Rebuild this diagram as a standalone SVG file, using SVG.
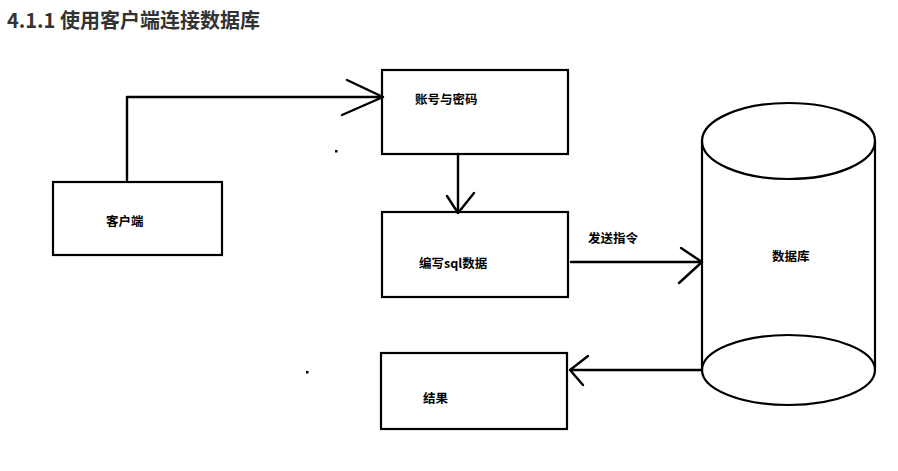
<svg xmlns="http://www.w3.org/2000/svg" width="898" height="471" viewBox="0 0 898 471">
<style>
.box{fill:#fff;stroke:#000;stroke-width:2.2}
.ln{fill:none;stroke:#000;stroke-width:2.4;stroke-linecap:round;stroke-linejoin:round}
.lbl{font-family:"Noto Sans CJK SC","Microsoft YaHei",sans-serif;font-size:12.5px;font-weight:600;fill:#000;dominant-baseline:central}
.title{font-family:"Noto Sans CJK SC","Open Sans",sans-serif;font-size:20px;font-weight:700;fill:#333}
</style>
<rect width="898" height="471" fill="#fff"/>
<text class="title" x="7" y="28">4.1.1 使用客户端连接数据库</text>
<g id="client"><rect class="box" x="53" y="182" width="169" height="73"/><text class="lbl" x="106" y="220">客户端</text></g>
<g id="account"><rect class="box" x="382" y="70" width="186" height="84"/><text class="lbl" x="415" y="98">账号与密码</text></g>
<g id="sql"><rect class="box" x="382" y="212" width="186" height="85"/><text class="lbl" x="419" y="262">编写sql数据</text></g>
<g id="result"><rect class="box" x="381" y="353" width="186" height="76"/><text class="lbl" x="423" y="397">结果</text></g>
<g id="database">
<path class="ln" d="M702,141 V370 M875,141 V370" style="stroke-width:2.2"/>
<ellipse cx="788.5" cy="141" rx="86.5" ry="38" fill="none" stroke="#000" stroke-width="2.2"/>
<ellipse cx="788.5" cy="370" rx="86.5" ry="35" fill="none" stroke="#000" stroke-width="2.2"/>
<text class="lbl" x="772" y="255">数据库</text>
</g>
<g id="connectors">
<path class="ln" d="M127,180 V97 H383 M347,80 L383,97 L342,115"/>
<path class="ln" d="M458,154 V213 M447,196 L458,213 L474,193"/>
<path class="ln" d="M571,262 H702 M681,248 L702,262 L679,283"/>
<text class="lbl" x="588" y="237">发送指令</text>
<path class="ln" d="M702,370 H570 M588,356 L570,370 L583,385"/>
</g>
<rect x="335" y="150" width="2.5" height="2.5" fill="#000"/>
<rect x="306" y="371" width="2.5" height="2.5" fill="#000"/>
</svg>
